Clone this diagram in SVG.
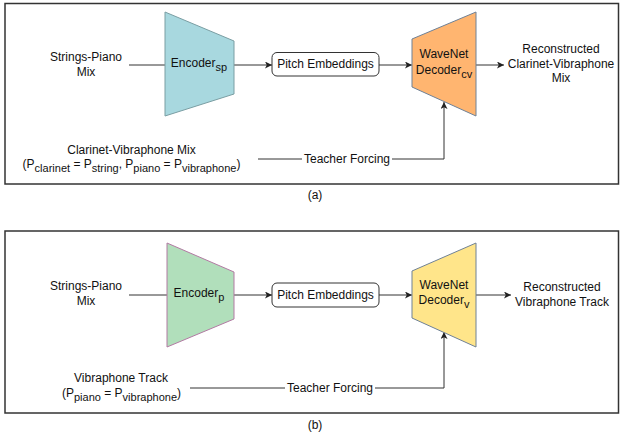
<svg xmlns="http://www.w3.org/2000/svg" width="620" height="436" viewBox="0 0 620 436">
<defs>
<marker id="ah" viewBox="0 0 10 10" refX="10" refY="5" markerWidth="7" markerHeight="7" markerUnits="userSpaceOnUse" orient="auto">
<path d="M0,0 L10,5 L0,10 L2.5,5 Z" fill="#222"/>
</marker>
<style>
text{font-family:"Liberation Sans",Arial,Helvetica,sans-serif;font-size:12px;fill:#111;text-anchor:middle}
.sub{font-size:11px}
.frame{fill:none;stroke:#333;stroke-width:1.5}
.conn{fill:none;stroke:#333;stroke-width:1}
.arr{marker-end:url(#ah)}
.box{fill:#fff;stroke:#333;stroke-width:1}
</style>
</defs>
<rect class="frame" x="5" y="3.5" width="613.5" height="180.5"/>
<rect class="frame" x="5" y="231" width="613.5" height="182"/>
<g id="connectors">
<line class="conn" x1="129" y1="65" x2="165" y2="65"/>
<line class="conn arr" x1="234" y1="65" x2="272" y2="65"/>
<line class="conn arr" x1="379" y1="65" x2="412" y2="65"/>
<line class="conn arr" x1="476" y1="65" x2="504" y2="65"/>
<line class="conn" x1="258" y1="159" x2="302" y2="159"/>
<polyline class="conn arr" points="392,159 444,159 444,102"/>
<line class="conn" x1="129" y1="295" x2="167" y2="295"/>
<line class="conn arr" x1="234" y1="295" x2="272" y2="295"/>
<line class="conn arr" x1="379" y1="295" x2="412" y2="295"/>
<line class="conn arr" x1="476" y1="295" x2="511" y2="295"/>
<line class="conn" x1="190" y1="388" x2="285" y2="388"/>
<polyline class="conn arr" points="375,388 444,388 444,332"/>
</g>
<g id="input-a">
<text x="86" y="61">Strings-Piano</text>
<text x="86" y="76">Mix</text>
</g>
<g id="encoder-sp">
<polygon points="165,12 234,41 234,94 165,116" fill="#a8d8df" stroke="#7a9ea3" stroke-width="1"/>
<text x="199" y="67">Encoder<tspan class="sub" dy="3.5">sp</tspan></text>
</g>
<g id="pitch-a">
<rect class="box" x="272" y="52.5" width="107" height="23.5" rx="5"/>
<text x="325.5" y="68">Pitch Embeddings</text>
</g>
<g id="decoder-cv">
<polygon points="412,39 476,12 476,116 412,87" fill="#ffb570" stroke="#6f8196" stroke-width="1"/>
<text x="444" y="58">WaveNet</text>
<text x="444" y="74">Decoder<tspan class="sub" dy="3.5">cv</tspan></text>
</g>
<g id="output-a">
<text x="561" y="53">Reconstructed</text>
<text x="561" y="68">Clarinet-Vibraphone</text>
<text x="561" y="82">Mix</text>
</g>
<g id="teacher-a">
<text x="131.5" y="153.5">Clarinet-Vibraphone Mix</text>
<text x="131.5" y="168">(P<tspan class="sub" dy="3.5">clarinet</tspan><tspan dy="-3.5"> = P</tspan><tspan class="sub" dy="3.5">string</tspan><tspan dy="-3.5">, P</tspan><tspan class="sub" dy="3.5">piano</tspan><tspan dy="-3.5"> = P</tspan><tspan class="sub" dy="3.5">vibraphone</tspan><tspan dy="-3.5">)</tspan></text>
<text x="347" y="163">Teacher Forcing</text>
</g>
<text x="315" y="199">(a)</text>
<g id="input-b">
<text x="86" y="290">Strings-Piano</text>
<text x="86" y="305">Mix</text>
</g>
<g id="encoder-p">
<polygon points="167,243 234,272 234,319 167,347" fill="#b1dfbb" stroke="#b27aa3" stroke-width="1"/>
<text x="199" y="297">Encoder<tspan class="sub" dy="3.5">p</tspan></text>
</g>
<g id="pitch-b">
<rect class="box" x="272" y="283" width="107" height="24" rx="5"/>
<text x="325.5" y="299">Pitch Embeddings</text>
</g>
<g id="decoder-v">
<polygon points="412,271 476,243 476,347 412,318" fill="#ffe58a" stroke="#6f8196" stroke-width="1"/>
<text x="444" y="289">WaveNet</text>
<text x="444" y="304">Decoder<tspan class="sub" dy="3.5">v</tspan></text>
</g>
<g id="output-b">
<text x="562" y="291">Reconstructed</text>
<text x="562" y="306">Vibraphone Track</text>
</g>
<g id="teacher-b">
<text x="121" y="382">Vibraphone Track</text>
<text x="121.5" y="397">(P<tspan class="sub" dy="3.5">piano</tspan><tspan dy="-3.5"> = P</tspan><tspan class="sub" dy="3.5">vibraphone</tspan><tspan dy="-3.5">)</tspan></text>
<text x="330" y="392">Teacher Forcing</text>
</g>
<text x="315" y="429">(b)</text>
</svg>
